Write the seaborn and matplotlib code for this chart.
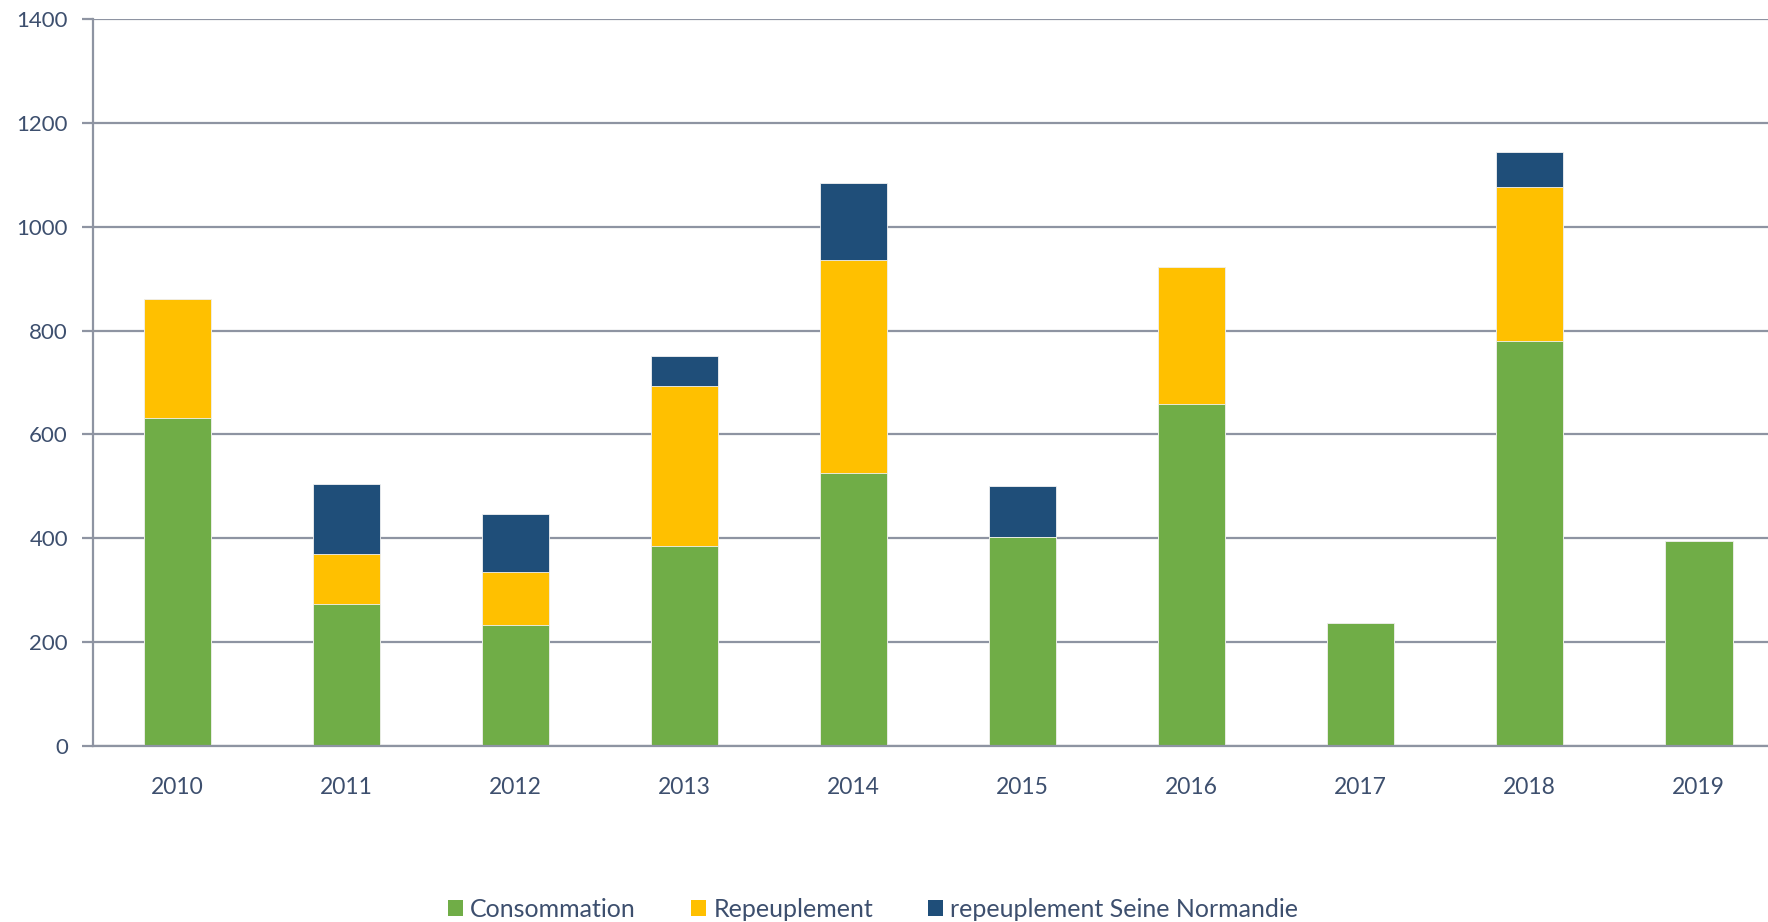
import matplotlib
matplotlib.use("Agg")
from matplotlib import pyplot as plt
from matplotlib.patches import Patch
import numpy as np
import pandas as pd
import seaborn as sns

# donnees
annees = ["2010", "2011", "2012", "2013", "2014", "2015", "2016", "2017", "2018", "2019"]
consommation = [632, 273, 233, 386, 525, 402, 659, 236, 779, 395]
repeuplement = [228, 97, 103, 308, 410, 0, 264, 0, 297, 0]
seine_normandie = [0, 135, 111, 57, 150, 99, 0, 0, 68, 0]
series = ["Consommation", "Repeuplement", "repeuplement Seine Normandie"]
couleurs = ["#70AD47", "#FFC000", "#1F4E79"]

texte = "#3D4F6E"
grille = "#8E94A2"

sns.set_theme(style="white")
plt.rcParams["font.family"] = ["Lato", "DejaVu Sans"]

df = pd.DataFrame({"annee": annees, "c": consommation, "r": repeuplement, "s": seine_normandie})
df["cr"] = df["c"] + df["r"]
df["crs"] = df["cr"] + df["s"]

fig = plt.figure(figsize=(17.68, 9.22), dpi=100)
ax = fig.add_axes([93 / 1768, 1 - 746 / 922, 1 - 93 / 1768, 727 / 922])

# empilement : on dessine du plus haut au plus bas
for col, coul in zip(["crs", "cr", "c"], couleurs[::-1]):
    sns.barplot(data=df, x="annee", y=col, color=coul, width=0.4, ax=ax,
                saturation=1, edgecolor="#F2F2F2", linewidth=0.6, zorder=3)

ax.set_ylim(0, 1400)
ax.set_xlim(-0.5, 9.41)
ax.set_yticks(np.arange(0, 1401, 200))
ax.yaxis.grid(True, color=grille, linewidth=1.6, zorder=0)
ax.set_axisbelow(True)
ax.set_xlabel("")
ax.set_ylabel("")

for s in ["top", "right"]:
    ax.spines[s].set_visible(False)
for s in ["left", "bottom"]:
    ax.spines[s].set_color(grille)
    ax.spines[s].set_linewidth(1.6)
    ax.spines[s].set_zorder(4)

ax.set_xticks(np.arange(0.5, 9.5, 1), minor=True)
ax.tick_params(axis="x", which="major", length=0, pad=22, labelsize=16.5, labelcolor=texte)
ax.tick_params(axis="x", which="minor", length=8, width=1.6, color=grille, direction="out")
ax.tick_params(axis="y", which="major", length=8, width=1.6, color=grille, pad=10,
               labelsize=16, labelcolor=texte, left=True)

handles = [Patch(facecolor=c, edgecolor="none") for c in couleurs]
leg = fig.legend(handles, series, loc="center", bbox_to_anchor=(873 / 1768, 1 - 909 / 922),
                 ncol=3, frameon=False, fontsize=18, handlelength=0.6, handleheight=0.6,
                 handletextpad=0.3, columnspacing=2.2)
for t in leg.get_texts():
    t.set_color(texte)

fig.savefig("out.png", dpi=100)
